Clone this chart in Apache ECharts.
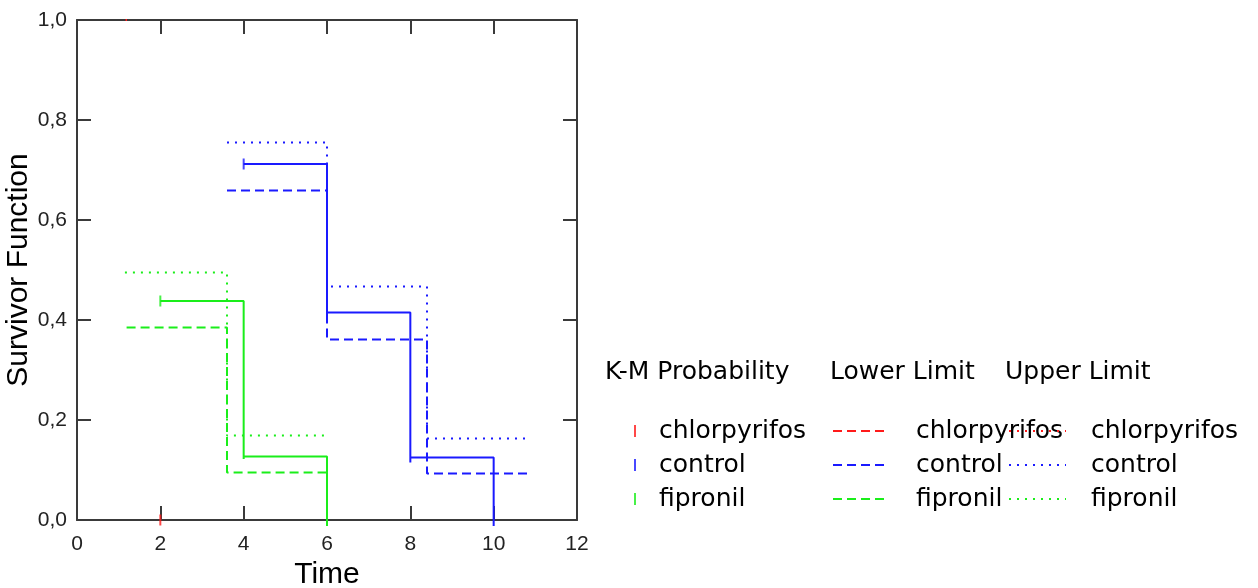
<!DOCTYPE html>
<html>
<head>
<meta charset="utf-8">
<script src="https://cdn.jsdelivr.net/npm/echarts@6/dist/echarts.min.js"></script>
<style>
  html, body { margin: 0; padding: 0; background: #fff; }
  #chart { width: 1258px; height: 588px; }
</style>
</head>
<body>
<div id="chart"></div>
<script>
// groups and colours
const groups = ["chlorpyrifos", "control", "fipronil"];
const groupColors = ["#ff1a1a", "#1a1aff", "#1aee1a"];

// censor ticks (K-M Probability marks)
const censorChlorpyrifos = [[2, 0]];
const censorControl = [[4, 0.712]];
const censorFipronil = [[2, 0.438]];

// Kaplan-Meier step curves (corner points)
const kmControl = [[4, 0.712], [6, 0.712], [6, 0.4], [6, 0.415], [8, 0.415], [8, 0.115], [8, 0.125], [10, 0.125], [10, -0.012]];
const kmFipronil = [[2, 0.438], [4, 0.438], [4, 0.122], [4, 0.127], [6, 0.127], [6, -0.012]];

// lower confidence limits
const lowerChlorpyrifos = [[1.17, 1.0], [1.2, 1.0]];
const lowerControl = [[3.6, 0.659], [6, 0.659], [6, 0.361], [8.4, 0.361], [8.4, 0.093], [10.82, 0.093]];
const lowerFipronil = [[1.19, 0.385], [3.6, 0.385], [3.6, 0.095], [6, 0.095]];

// upper confidence limits
const upperChlorpyrifos = [[1.17, 1.0], [1.2, 1.0]];
const upperControl = [[3.6, 0.755], [6, 0.755], [6, 0.467], [8.4, 0.467], [8.4, 0.163], [10.82, 0.163]];
const upperFipronil = [[1.15, 0.495], [3.6, 0.495], [3.6, 0.169], [6, 0.169]];

const legendHeaders = ["K-M Probability", "Lower Limit", "Upper Limit"];

const chart = echarts.init(document.getElementById("chart"));

const axisColor = "#3a3a3a";
const legendFont = { fontFamily: "DejaVu Sans", fontSize: 25, color: "#000" };

function stepLine(name, data, color, type) {
  return {
    name: name,
    type: "line",
    data: data,
    symbol: "none",
    clip: false,
    silent: true,
    lineStyle: { color: color, width: 2, type: type },
    itemStyle: { color: color },
  };
}

function censor(name, data, color) {
  return {
    name: name,
    type: "scatter",
    data: data,
    symbol: "rect",
    symbolSize: [2, 11],
    silent: true,
    itemStyle: { color: color },
  };
}

const baseAxis = {
  type: "value",
  axisLine: { show: true, onZero: false, lineStyle: { color: axisColor, width: 2 } },
  axisTick: { show: true, inside: true, length: 14, lineStyle: { color: axisColor, width: 2 } },
  splitLine: { show: false },
};

function limitLegend(prefix, left, width, gap) {
  return {
    data: groups.map((g) => prefix + g),
    orient: "vertical",
    left: left,
    top: 418,
    padding: 0,
    itemWidth: width,
    itemHeight: 12,
    itemGap: 8,
    selectedMode: false,
    itemStyle: { opacity: 0 },
    formatter: (n) => n.split("|")[1],
    textStyle: { ...legendFont, lineHeight: 26, padding: [0, 0, 0, gap] },
  };
}

const option = {
  animation: false,
  textStyle: { fontFamily: "Liberation Sans" },
  title: legendHeaders.map((t, i) => ({
    text: t,
    left: [605, 830, 1005][i],
    top: 360,
    padding: 0,
    textStyle: { ...legendFont, fontWeight: "normal" },
  })),
  legend: [
    {
      data: groups.map((g) => "KM|" + g),
      orient: "vertical",
      left: 634,
      top: 418,
      padding: 0,
      icon: "rect",
      itemWidth: 2,
      itemHeight: 12,
      itemGap: 8,
      selectedMode: false,
      formatter: (n) => n.split("|")[1],
      textStyle: { ...legendFont, lineHeight: 26, padding: [0, 0, 0, 18] },
    },
    limitLegend("LL|", 832, 51, 27),
    limitLegend("UL|", 1008, 57, 20),
  ],
  grid: { left: 77, top: 20, width: 500, height: 500, outerBoundsMode: "none", containLabel: false },
  xAxis: [
    {
      ...baseAxis,
      min: 0,
      max: 12,
      interval: 2,
      name: "Time",
      nameLocation: "middle",
      nameGap: 40,
      nameTextStyle: { fontFamily: "Liberation Sans", fontSize: 30, color: "#000" },
      axisLabel: { fontSize: 21, color: "#222", margin: 14 },
    },
    {
      ...baseAxis,
      position: "top",
      min: 0,
      max: 12,
      interval: 2,
      axisLabel: { show: false },
    },
  ],
  yAxis: [
    {
      ...baseAxis,
      min: 0,
      max: 1,
      interval: 0.2,
      name: "Survivor Function",
      nameLocation: "middle",
      nameGap: 30,
      nameTextStyle: { fontFamily: "Liberation Sans", fontSize: 30, color: "#000" },
      axisLabel: {
        fontSize: 21,
        color: "#222",
        margin: 10,
        formatter: (v) => v.toFixed(1).replace(".", ","),
      },
    },
    {
      ...baseAxis,
      position: "right",
      min: 0,
      max: 1,
      interval: 0.2,
      axisLabel: { show: false },
    },
  ],
  series: [
    stepLine("LL|chlorpyrifos", lowerChlorpyrifos, groupColors[0], [9, 5]),
    stepLine("LL|control", lowerControl, groupColors[1], [9, 5]),
    stepLine("LL|fipronil", lowerFipronil, groupColors[2], [9, 5]),
    stepLine("UL|chlorpyrifos", upperChlorpyrifos, groupColors[0], [2, 6]),
    stepLine("UL|control", upperControl, groupColors[1], [2, 6]),
    stepLine("UL|fipronil", upperFipronil, groupColors[2], [2, 6]),
    stepLine("curve control", kmControl, groupColors[1], "solid"),
    stepLine("curve fipronil", kmFipronil, groupColors[2], "solid"),
    censor("KM|chlorpyrifos", censorChlorpyrifos, groupColors[0]),
    censor("KM|control", censorControl, groupColors[1]),
    censor("KM|fipronil", censorFipronil, groupColors[2]),
  ],
};

chart.setOption(option);
</script>
</body>
</html>
